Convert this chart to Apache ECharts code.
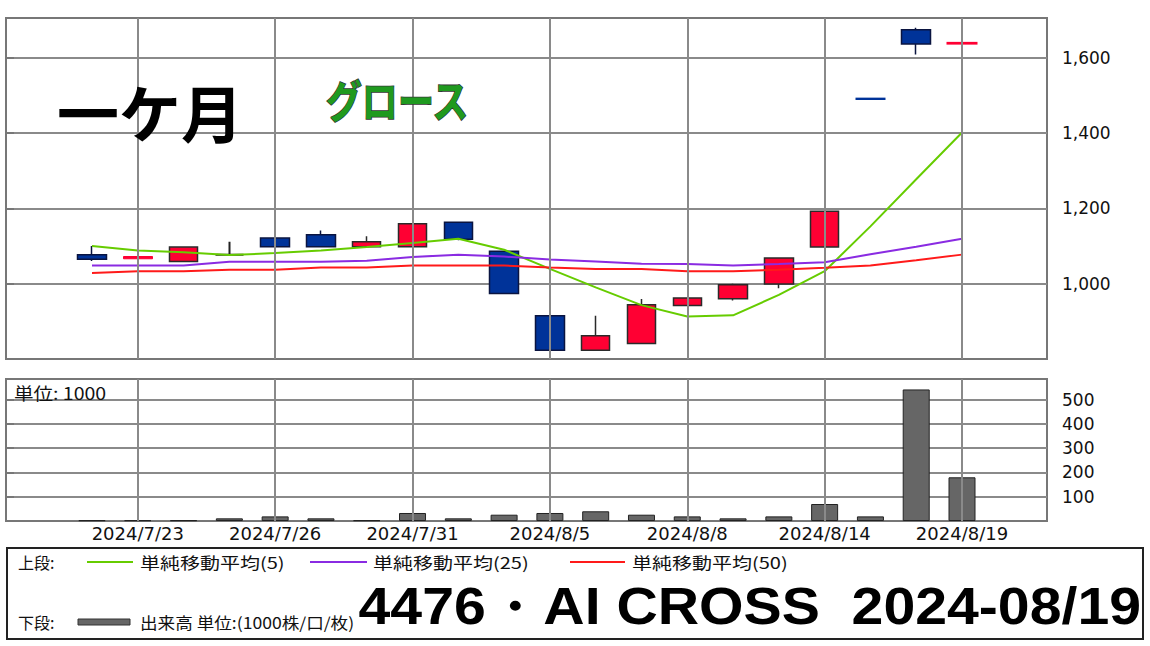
<!DOCTYPE html>
<html><head><meta charset="utf-8">
<script src="https://cdn.jsdelivr.net/npm/echarts@6/dist/echarts.min.js"></script>
<style>html,body{margin:0;padding:0;background:#fff}#c{width:1150px;height:646px}</style>
</head><body><div id="c"></div>
<script>
// ---- data ----
const dates = ['2024/7/22','2024/7/23','2024/7/24','2024/7/25','2024/7/26','2024/7/29','2024/7/30','2024/7/31','2024/8/1','2024/8/2',
  '2024/8/5','2024/8/6','2024/8/7','2024/8/8','2024/8/9','2024/8/13','2024/8/14','2024/8/15','2024/8/16','2024/8/19'];
const openP  = [1077,1066,1059,1077,1121,1130,1098,1098,1163,1086, 915, 823, 841, 942, 960, 999,1097,1491,1674,1637];
const closeP = [1065,1072,1097,1077,1098,1098,1111,1159,1118, 974, 823, 862, 944, 962, 997,1068,1192,1490,1636,1639];
const lowP   = [1060,1066,1059,1077,1098,1098,1098,1098,1115, 974, 823, 823, 841, 942, 955, 988,1097,1490,1608,1637];
const highP  = [1100,1072,1097,1111,1121,1141,1126,1159,1163,1086, 915, 915, 959, 962,1000,1068,1192,1491,1679,1639];
const ma5    = [1100,1088,1083,1076,1081,1088,1097,1108,1119,1090,1039, 990, 943, 913, 916, 970,1033,1152,1277,1401];
const ma25   = [1048,1048,1048,1058,1058,1058,1061,1071,1077,1072,1064,1059,1053,1052,1048,1052,1057,1078,1098,1119];
const ma50   = [1028,1033,1033,1037,1037,1043,1043,1048,1048,1048,1043,1039,1039,1033,1033,1037,1042,1048,1062,1077];
const volume = [3,3,3,11,19,11,3,33,11,26,33,40,26,19,11,19,70,19,542,180];
const labeledDates = ['2024/7/23','2024/7/26','2024/7/31','2024/8/5','2024/8/8','2024/8/14','2024/8/19'];
const priceLabels = [1000,1200,1400,1600];
const volumeLabels = [100,200,300,400,500];
const maNames = ['単純移動平均(5)','単純移動平均(25)','単純移動平均(50)'];
const titleText = '4476・AI CROSS  2024-08/19';

// ---- styling / layout ----
const RED = '#ff0033', BLUE = '#003399';
const MA_COLORS = ['#66cc00','#8a2be2','#ff1a1a'];
const GRID_COLOR = '#8a8a8a';
const FL = 6, FW = 1041;            // frame left / width
const DL = 69.1, DW = 915.8;        // data area left / width (20 slots)
const UT = 18, UH = 341;            // upper pane
const LT = 379, LH = 142;           // lower pane
const PMIN = 800, PMAX = 1705, VMAX = 585;
const CJK = '"Noto Sans CJK JP"';

const candleData = dates.map((d, i) => {
  const o = openP[i], c = closeP[i], l = lowP[i], h = highP[i];
  const item = { value: [o, c, l, h] };
  if (Math.abs(o - c) <= 8) {
    const col = c > o ? RED : (c < o ? BLUE : '#222');
    item.itemStyle = { color: col, color0: col, borderColor: col, borderColor0: col, borderColorDoji: col, borderWidth: Math.abs(o - c) <= 2 ? 2 : 1 };
  }
  return item;
});

const gridLineMark = {
  symbol: 'none', silent: true, animation: false,
  label: { show: false },
  lineStyle: { color: GRID_COLOR, width: 2, type: 'solid' },
  data: labeledDates.map(d => ({ xAxis: d }))
};

const chart = echarts.init(document.getElementById('c'), null, { renderer: 'svg' });
chart.setOption({
  animation: false,
  backgroundColor: '#fff',
  grid: [
    { left: FL, top: UT, width: FW, height: UH, show: true, borderColor: '#777', borderWidth: 2, backgroundColor: 'transparent', outerBoundsMode: 'none' },
    { left: DL, top: UT, width: DW, height: UH, outerBoundsMode: 'none' },
    { left: FL, top: LT, width: FW, height: LH, show: true, borderColor: '#777', borderWidth: 2, backgroundColor: 'transparent', outerBoundsMode: 'none' },
    { left: DL, top: LT, width: DW, height: LH, outerBoundsMode: 'none' }
  ],
  xAxis: [
    { gridIndex: 0, type: 'value', min: 0, max: 1, show: false },
    { gridIndex: 1, type: 'category', data: dates, show: false },
    { gridIndex: 2, type: 'value', min: 0, max: 1, show: false },
    { gridIndex: 3, type: 'category', data: dates,
      axisLine: { show: false }, axisTick: { show: false }, splitLine: { show: false },
      axisLabel: { interval: (i, v) => labeledDates.includes(v), fontSize: 18, fontFamily: 'DejaVu Sans', color: '#111', margin: 3 } }
  ],
  yAxis: [
    { gridIndex: 0, type: 'value', position: 'right', min: PMIN, max: PMAX, interval: 200,
      axisLine: { show: false },
      axisTick: { show: true, length: 8, lineStyle: { color: '#777', width: 2 }, customValues: priceLabels },
      axisLabel: { customValues: priceLabels, formatter: v => priceLabels.includes(v) ? v.toLocaleString('en-US') : '',
        fontSize: 17, fontFamily: 'DejaVu Sans', color: '#111', margin: 15 },
      splitLine: { show: true, lineStyle: { color: GRID_COLOR, width: 2 } } },
    { gridIndex: 1, type: 'value', min: PMIN, max: PMAX, show: false, splitLine: { show: false } },
    { gridIndex: 2, type: 'value', position: 'right', min: 0, max: VMAX, interval: 100,
      axisLine: { show: false },
      axisTick: { show: true, length: 8, lineStyle: { color: '#777', width: 2 }, customValues: volumeLabels },
      axisLabel: { customValues: volumeLabels, formatter: v => volumeLabels.includes(v) ? String(v) : '',
        fontSize: 17, fontFamily: 'DejaVu Sans', color: '#111', margin: 15 },
      splitLine: { show: true, lineStyle: { color: GRID_COLOR, width: 2 } } },
    { gridIndex: 3, type: 'value', min: 0, max: VMAX, show: false, splitLine: { show: false } }
  ],
  series: [
    { type: 'line', xAxisIndex: 1, yAxisIndex: 1, data: [], z: 1, markLine: gridLineMark },
    { type: 'candlestick', xAxisIndex: 1, yAxisIndex: 1, data: candleData, barWidth: 29, z: 2,
      itemStyle: { color: RED, color0: BLUE, borderColor: '#2a2a2a', borderColor0: '#0a1440', borderWidth: 1.5 } },
    ...[ma5, ma25, ma50].map((arr, k) => ({
      name: maNames[k], type: 'line', xAxisIndex: 1, yAxisIndex: 1, data: arr, z: 3,
      symbol: 'none', smooth: false, lineStyle: { color: MA_COLORS[k], width: 2 }
    })),
    { type: 'line', xAxisIndex: 3, yAxisIndex: 3, data: [], z: 1, markLine: gridLineMark },
    { name: '出来高', type: 'bar', xAxisIndex: 3, yAxisIndex: 3, data: volume, barWidth: 27, z: 2,
      itemStyle: { color: '#666', borderColor: '#222', borderWidth: 1 } }
  ],
  graphic: [
    { type: 'text', x: 150, y: 111, z: 10, style: { text: '一ケ月', font: 'bold 62px ' + CJK, fill: '#000', textAlign: 'center', textVerticalAlign: 'middle' } },
    { type: 'text', x: 397, y: 99, z: 10, scaleX: 0.82, style: { text: 'グロース', font: 'bold 44px ' + CJK, fill: '#1f9a1f', stroke: '#333', lineWidth: 1.5, textAlign: 'center', textVerticalAlign: 'middle' } },
    { type: 'text', x: 14, y: 393, z: 10, scaleX: 1.15, style: { text: '単位: 1000', font: '17px ' + CJK, fill: '#111', textAlign: 'left', textVerticalAlign: 'middle' } },
    // legend box
    { type: 'rect', z: 10, shape: { x: 7, y: 548, width: 1136, height: 91 }, style: { fill: 'none', stroke: '#222', lineWidth: 2 } },
    { type: 'text', x: 18, y: 562, z: 10, style: { text: '上段:', font: '16px ' + CJK, fill: '#111', textAlign: 'left', textVerticalAlign: 'middle' } },
    { type: 'line', z: 10, shape: { x1: 87, y1: 562, x2: 133, y2: 562 }, style: { stroke: MA_COLORS[0], lineWidth: 2 } },
    { type: 'text', x: 140, y: 562, z: 10, scaleX: 1.25, style: { text: maNames[0], font: '16px ' + CJK, fill: '#111', textAlign: 'left', textVerticalAlign: 'middle' } },
    { type: 'line', z: 10, shape: { x1: 310, y1: 562, x2: 367, y2: 562 }, style: { stroke: MA_COLORS[1], lineWidth: 2 } },
    { type: 'text', x: 373, y: 562, z: 10, scaleX: 1.25, style: { text: maNames[1], font: '16px ' + CJK, fill: '#111', textAlign: 'left', textVerticalAlign: 'middle' } },
    { type: 'line', z: 10, shape: { x1: 570, y1: 562, x2: 625, y2: 562 }, style: { stroke: MA_COLORS[2], lineWidth: 2 } },
    { type: 'text', x: 632, y: 562, z: 10, scaleX: 1.25, style: { text: maNames[2], font: '16px ' + CJK, fill: '#111', textAlign: 'left', textVerticalAlign: 'middle' } },
    { type: 'text', x: 18, y: 622, z: 10, style: { text: '下段:', font: '16px ' + CJK, fill: '#111', textAlign: 'left', textVerticalAlign: 'middle' } },
    { type: 'rect', z: 10, shape: { x: 78, y: 619, width: 52, height: 6 }, style: { fill: '#666', stroke: '#333', lineWidth: 1 } },
    { type: 'text', x: 140, y: 622, z: 10, scaleX: 1.1, style: { text: '出来高 単位:(1000株/口/枚)', font: '16px ' + CJK, fill: '#111', textAlign: 'left', textVerticalAlign: 'middle' } },
    { type: 'text', x: 1141, y: 606, z: 11, scaleX: 1.1, style: { text: titleText, font: 'bold 52px "Liberation Sans"', fill: '#000', textAlign: 'right', textVerticalAlign: 'middle' } }
  ]
});
</script></body></html>
